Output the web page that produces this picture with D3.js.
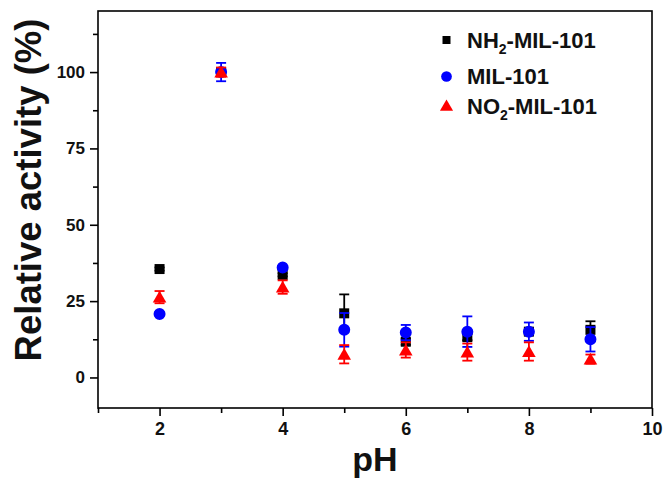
<!DOCTYPE html>
<html><head><meta charset="utf-8">
<script src="https://cdnjs.cloudflare.com/ajax/libs/d3/7.8.5/d3.min.js"></script>
<style>
html,body{margin:0;padding:0;background:#fff;}
svg{display:block;font-family:"Liberation Sans",Arial,sans-serif;}
</style></head><body>
<svg id="chart" width="667" height="479"></svg>
<script>
const pH = [2, 3, 4, 5, 6, 7, 8, 9];
const nh2Values = [35.5, 100, 33.6, 21, 11.7, 13.2, 15, 15.6];
const nh2Errors = [0.5, 1, 0.5, 6.2, 1, 1, 1, 2.8];
const milValues = [20.8, 100, 36, 15.6, 14.7, 15, 15, 12.5];
const milErrors = [0.5, 3, 0.5, 5.5, 2.5, 5, 3, 4];
const no2Values = [26.3, 100, 29.6, 7.6, 9, 8.3, 8.5, 6];
const no2Errors = [2, 1.5, 2.2, 3, 2.5, 2.8, 3, 1.5];
const xTicks = [2, 4, 6, 8, 10];
const yTicks = [0, 25, 50, 75, 100];
const seriesNames = ["NH2-MIL-101", "MIL-101", "NO2-MIL-101"];
const seriesColors = ["#000000", "#0000ff", "#ff0000"];

const svg = d3.select("#chart");
const L = 98, R = 652, T = 11, B = 408;
const x = d3.scaleLinear().domain([1, 10]).range([L, R]);
const y = d3.scaleLinear().domain([-10, 120]).range([B, T]);

// frame
svg.append("rect").attr("x", L).attr("y", T).attr("width", R - L).attr("height", B - T)
  .attr("fill", "none").attr("stroke", "#000").attr("stroke-width", 1.6);

// x axis
const xAxis = d3.axisBottom(x).tickValues(xTicks).tickSize(8).tickPadding(6).tickFormat(d3.format("d"));
const gx = svg.append("g").attr("transform", `translate(0,${B})`).call(xAxis);
gx.select(".domain").remove();
gx.selectAll(".tick line").attr("stroke-width", 1.6);
gx.selectAll("text").attr("font-size", 18).attr("font-weight", "bold").attr("fill", "#111");
const gxm = svg.append("g").attr("transform", `translate(0,${B})`)
  .call(d3.axisBottom(x).tickValues([1, 3, 5, 7, 9]).tickSize(5).tickFormat(""));
gxm.select(".domain").remove();
gxm.selectAll(".tick line").attr("stroke-width", 1.6);

// y axis
const yAxis = d3.axisLeft(y).tickValues(yTicks).tickSize(8).tickPadding(5);
const gy = svg.append("g").attr("transform", `translate(${L},0)`).call(yAxis);
gy.select(".domain").remove();
gy.selectAll(".tick line").attr("stroke-width", 1.6);
gy.selectAll("text").attr("font-size", 17).attr("font-weight", "bold").attr("fill", "#111");
const gym = svg.append("g").attr("transform", `translate(${L},0)`)
  .call(d3.axisLeft(y).tickValues([12.5, 37.5, 62.5, 87.5, 112.5]).tickSize(5).tickFormat(""));
gym.select(".domain").remove();
gym.selectAll(".tick line").attr("stroke-width", 1.6);

// titles
svg.append("text").attr("x", (L + R) / 2).attr("y", 471).attr("text-anchor", "middle")
  .attr("font-size", 34).attr("font-weight", "bold").attr("fill", "#111").text("pH");
svg.append("text").attr("transform", "translate(41,190) rotate(-90)").attr("text-anchor", "middle")
  .attr("font-size", 36.5).attr("font-weight", "bold").attr("fill", "#111").text("Relative activity (%)");

const symbols = [d3.symbolSquare, d3.symbolCircle, d3.symbolTriangle];
const sizes = [100, 113, 80];
const allVals = [nh2Values, milValues, no2Values];
const allErrs = [nh2Errors, milErrors, no2Errors];

allVals.forEach((vals, si) => {
  const g = svg.append("g");
  const col = seriesColors[si];
  const data = pH.map((p, i) => ({p, v: vals[i], e: allErrs[si][i]}));
  const eb = g.selectAll(".eb").data(data).enter().append("g");
  eb.append("line").attr("x1", d => x(d.p)).attr("x2", d => x(d.p))
    .attr("y1", d => y(d.v - d.e)).attr("y2", d => y(d.v + d.e)).attr("stroke", col).attr("stroke-width", 1.8);
  eb.append("line").attr("x1", d => x(d.p) - 5).attr("x2", d => x(d.p) + 5)
    .attr("y1", d => y(d.v + d.e)).attr("y2", d => y(d.v + d.e)).attr("stroke", col).attr("stroke-width", 1.8);
  eb.append("line").attr("x1", d => x(d.p) - 5).attr("x2", d => x(d.p) + 5)
    .attr("y1", d => y(d.v - d.e)).attr("y2", d => y(d.v - d.e)).attr("stroke", col).attr("stroke-width", 1.8);
  g.selectAll(".pt").data(data).enter().append("path")
    .attr("d", d3.symbol().type(symbols[si]).size(sizes[si]))
    .attr("transform", d => `translate(${x(d.p)},${y(d.v) + (si === 2 ? 1.5 : 0)})`)
    .attr("fill", col);
});

// legend
const legY = [40, 76.5, 106];
const leg = svg.append("g");
seriesNames.forEach((name, i) => {
  leg.append("path").attr("d", d3.symbol().type(symbols[i]).size([64, 90, 75][i])())
    .attr("transform", `translate(446.5,${legY[i] + (i === 2 ? 1 : 0)})`).attr("fill", seriesColors[i]);
  const t = leg.append("text").attr("x", 467).attr("y", legY[i] + 7.5)
    .attr("font-size", 22).attr("font-weight", "bold").attr("fill", "#111");
  if (name.includes("2")) {
    const parts = [name.slice(0, 2), "2", name.slice(3)];
    t.append("tspan").text(parts[0]);
    t.append("tspan").attr("font-size", 14).attr("dy", 6).text(parts[1]);
    t.append("tspan").attr("dy", -6).text(parts[2]);
  } else {
    t.text(name);
  }
});
</script>
</body></html>
